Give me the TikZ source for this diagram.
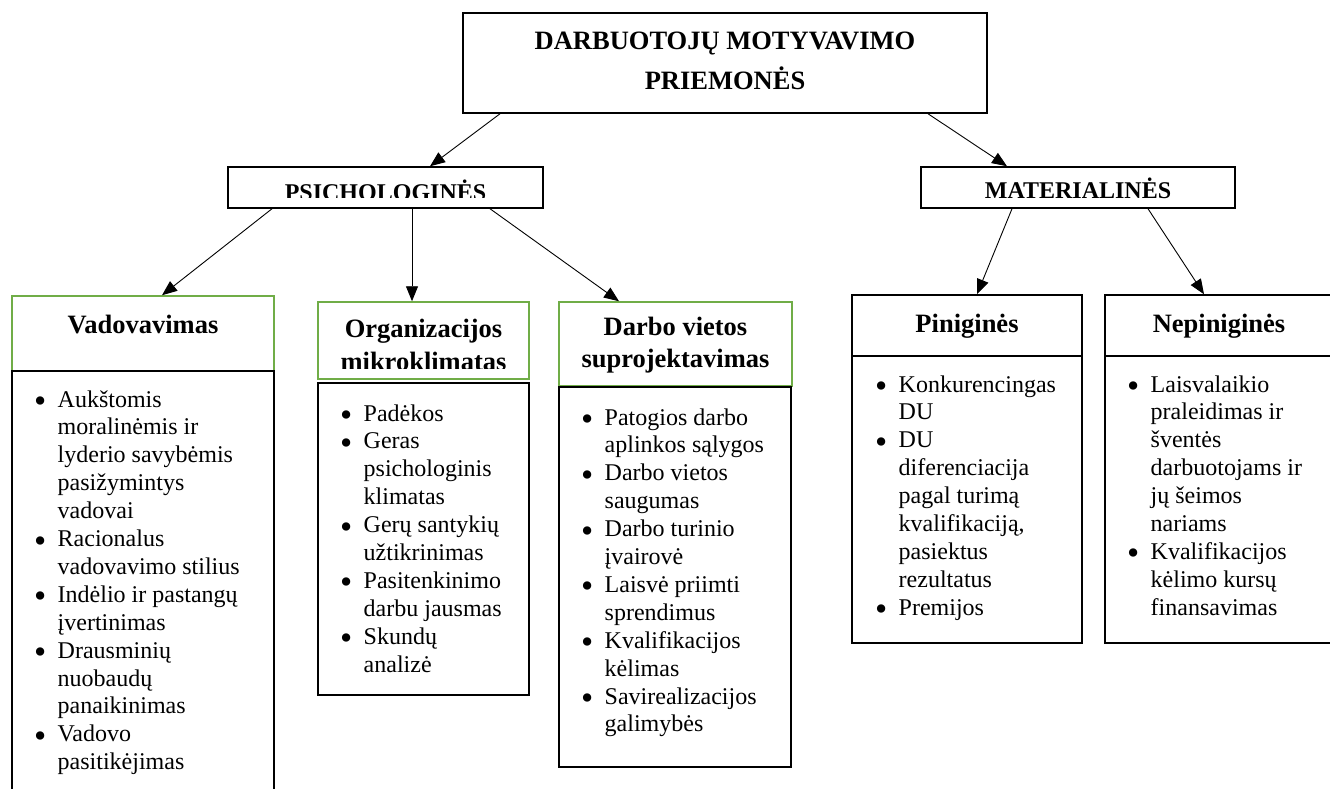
\documentclass[tikz,border=0pt]{standalone}
\usepackage{fontspec}
\usepackage{graphicx}
\setmainfont{Liberation Serif}
\usetikzlibrary{arrows.meta}
\definecolor{leafgreen}{RGB}{112,173,71}
% bullet and hanging indent for the item lists
\newcommand\bl{\makebox[23.5pt][l]{\smash{\raisebox{-5.5pt}{\scalebox{1.45}{\textbullet}}}}}
\newcommand\bi{\hspace*{23.5pt}}
% lines stacked with the current baselineskip; baseline = first line
\newcommand\itemlines[1]{\vtop{\halign{##\hfil\cr#1\crcr}}}
\newcommand\centerlines[1]{\vtop{\halign{\hfil##\hfil\cr#1\crcr}}}
\tikzset{
  frame/.style={draw=black, line width=1.5pt, inner sep=0pt},
  gframe/.style={draw=leafgreen, line width=1.5pt, inner sep=0pt},
  maintitle/.style={font=\bfseries\fontsize{26.5}{40}\selectfont, inner sep=0pt, anchor=base},
  headline/.style={font=\bfseries\fontsize{26.5}{32}\selectfont, inner sep=0pt, anchor=base},
  capline/.style={font=\bfseries\fontsize{24}{28}\selectfont, inner sep=0pt, anchor=base},
  listtext/.style={font=\fontsize{24}{27.9}\selectfont, inner sep=0pt, anchor=base west},
  link/.style={line width=0.9pt, -{Triangle[length=15pt,width=12pt]}},
}
\begin{document}
\begin{tikzpicture}[x=1pt, y=-1pt]
\useasboundingbox (0,0) rectangle (1330,789);

% ---- top level
\node[frame, minimum width=524pt, minimum height=100pt] (top) at (725,63) {};
\node[maintitle] (toptext) at (725,50) {\centerlines{DARBUOTOJŲ MOTYVAVIMO\cr PRIEMONĖS}};

% ---- second level
\begin{scope}
  \clip (228,160) rectangle (543,197.5);
  \node[capline] (psichtext) at (385.5,200) {PSICHOLOGINĖS};
\end{scope}
\node[frame, minimum width=315pt, minimum height=41pt] (psich) at (385.5,187.5) {};
\node[frame, minimum width=314pt, minimum height=41pt] (mat) at (1078,187.5) {};
\node[capline] (mattext) at (1078,198) {MATERIALINĖS};

% ---- third level: title boxes
\node[gframe, minimum width=262pt, minimum height=75pt] (vadT) at (143,333.5) {};
\node[headline] (vadtext) at (143,333) {Vadovavimas};

\node[gframe, minimum width=211pt, minimum height=77pt] (orgT) at (423.5,340.5) {};
\node[headline] (orgtext) at (423.5,337) {Organizacijos};
\begin{scope}
  \clip (318,344) rectangle (529,368);
  \node[headline] (orgtextb) at (423.5,370) {mikroklimatas};
\end{scope}

\node[gframe, minimum width=233pt, minimum height=84pt] (darT) at (675.5,344) {};
\node[headline] (dartext) at (675.5,335) {\centerlines{Darbo vietos\cr suprojektavimas}};

\node[frame, minimum width=230pt, minimum height=61pt] (pinT) at (967,325.5) {};
\node[headline] (pintext) at (967,332) {Piniginės};

\node[frame, minimum width=227pt, minimum height=61pt] (nepT) at (1218.5,325.5) {};
\node[headline] (neptext) at (1219,332) {Nepiniginės};

% ---- third level: item boxes
\node[frame, minimum width=262pt, minimum height=439pt] (vadL) at (143,590.5) {};
\node[frame, minimum width=211pt, minimum height=312pt] (orgL) at (423.5,539) {};
\node[frame, minimum width=232pt, minimum height=380pt] (darL) at (675,577) {};
\node[frame, minimum width=230pt, minimum height=287pt] (pinL) at (967,499.5) {};
\node[frame, minimum width=227pt, minimum height=287pt] (nepL) at (1218.5,499.5) {};

\node[listtext] (vadlist) at (34,407) {\itemlines{%
\bl Aukštomis\cr
\bi moralinėmis ir\cr
\bi lyderio savybėmis\cr
\bi pasižymintys\cr
\bi vadovai\cr
\bl Racionalus\cr
\bi vadovavimo stilius\cr
\bl Indėlio ir pastangų\cr
\bi įvertinimas\cr
\bl Drausminių\cr
\bi nuobaudų\cr
\bi panaikinimas\cr
\bl Vadovo\cr
\bi pasitikėjimas}};

\node[listtext] (orglist) at (340,421) {\itemlines{%
\bl Padėkos\cr
\bl Geras\cr
\bi psichologinis\cr
\bi klimatas\cr
\bl Gerų santykių\cr
\bi užtikrinimas\cr
\bl Pasitenkinimo\cr
\bi darbu jausmas\cr
\bl Skundų\cr
\bi analizė}};

\node[listtext] (darlist) at (581,425) {\itemlines{%
\bl Patogios darbo\cr
\bi aplinkos sąlygos\cr
\bl Darbo vietos\cr
\bi saugumas\cr
\bl Darbo turinio\cr
\bi įvairovė\cr
\bl Laisvė priimti\cr
\bi sprendimus\cr
\bl Kvalifikacijos\cr
\bi kėlimas\cr
\bl Savirealizacijos\cr
\bi galimybės}};

\node[listtext] (pinlist) at (875,392) {\itemlines{%
\bl Konkurencingas\cr
\bi DU\cr
\bl DU\cr
\bi diferenciacija\cr
\bi pagal turimą\cr
\bi kvalifikaciją,\cr
\bi pasiektus\cr
\bi rezultatus\cr
\bl Premijos}};

\node[listtext] (neplist) at (1127,392) {\itemlines{%
\bl Laisvalaikio\cr
\bi praleidimas ir\cr
\bi šventės\cr
\bi darbuotojams ir\cr
\bi jų šeimos\cr
\bi nariams\cr
\bl Kvalifikacijos\cr
\bi kėlimo kursų\cr
\bi finansavimas}};

% ---- connectors
\draw[link] ([xshift=-225]top.south) -- ([xshift=44.5]psich.north);
\draw[link] ([xshift=203]top.south) -- ([xshift=-71]mat.north);
\draw[link] ([xshift=-113.5]psich.south) -- ([xshift=19]vadT.north);
\draw[link] ([xshift=26.5]psich.south) -- ([xshift=-11.5]orgT.north);
\draw[link] ([xshift=104.5]psich.south) -- ([xshift=-56.5]darT.north);
\draw[link] ([xshift=-66]mat.south) -- ([xshift=10]pinT.north);
\draw[link] ([xshift=70]mat.south) -- ([xshift=-14.5]nepT.north);
\end{tikzpicture}
\end{document}
